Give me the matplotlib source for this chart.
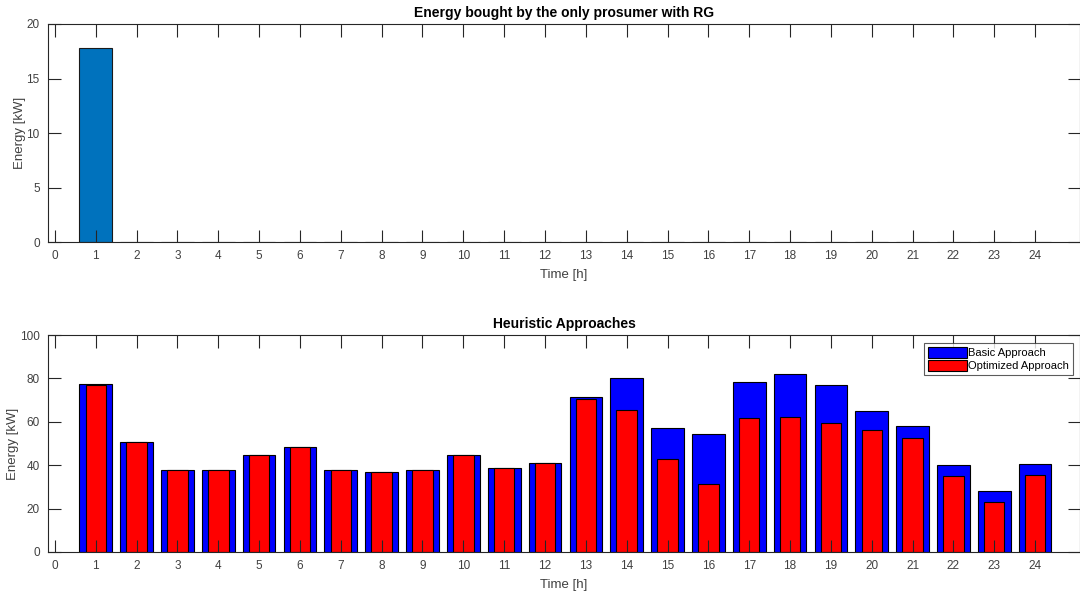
import matplotlib
matplotlib.use("Agg")
import matplotlib.pyplot as plt
import numpy as np

plt.rcParams['font.family'] = ['Liberation Sans', 'DejaVu Sans']

# Hours of the day
hours = list(range(1, 25))

# Energy bought by the single prosumer with renewable generation (kW)
prosumer_energy = [17.8] + [0.0] * 23

# Heuristic approaches (kW)
basic_energy = [77.3, 50.9, 37.6, 38.0, 44.5, 48.3, 37.6, 36.8, 37.9, 44.5, 38.5, 41.0,
                71.3, 80.4, 57.1, 54.4, 78.2, 81.9, 77.0, 65.0, 58.0, 40.0, 28.1, 40.6]
optimized_energy = [77.0, 50.9, 37.6, 38.0, 44.5, 48.3, 37.6, 36.8, 37.9, 44.5, 38.5, 41.0,
                    70.7, 65.3, 42.8, 31.4, 61.7, 62.1, 59.6, 56.3, 52.7, 35.1, 23.0, 35.6]

xticks = list(range(0, 25))

W, H = 1080, 597
fig = plt.figure(figsize=(W / 100, H / 100), dpi=100)

axis_col = '#262626'
label_col = '#404040'


def px_axes(left, top, right, bottom):
    return fig.add_axes([left / W, 1 - bottom / H, (right - left) / W, (bottom - top) / H])


def style(ax, yticks, ymax):
    ax.set_xlim(-0.17, 25.1)
    ax.set_ylim(0, ymax)
    ax.set_xticks(xticks)
    ax.set_yticks(yticks)
    ax.tick_params(direction='in', top=True, right=True, length=9, width=0.8,
                   color=axis_col, labelcolor=label_col, labelsize=8.5, pad=6)
    for s in ax.spines.values():
        s.set_color(axis_col)
        s.set_linewidth(0.8)
    ax.set_xlabel('Time [h]', fontsize=9.5, color=label_col, labelpad=5)
    ax.set_ylabel('Energy [kW]', fontsize=9.5, color=label_col, labelpad=0.5)


# Top panel
ax1 = px_axes(48, 24, 1080, 242)
ax1.bar(hours, prosumer_energy, width=0.8, color='#0072BD', edgecolor='#1a1a1a', linewidth=0.8)
style(ax1, [0, 5, 10, 15, 20], 20)
ax1.set_title('Energy bought by the only prosumer with RG', fontsize=10, fontweight='bold',
              color='#000000', pad=5)

# Bottom panel
ax2 = px_axes(48, 335, 1080, 552)
ax2.bar(hours, basic_energy, width=0.8, color='#0000FF', edgecolor='#000000', linewidth=0.8,
        label='Basic Approach')
ax2.bar(hours, optimized_energy, width=0.5, color='#FF0000', edgecolor='#000000', linewidth=0.8,
        label='Optimized Approach')
style(ax2, [0, 20, 40, 60, 80, 100], 100)
ax2.set_title('Heuristic Approaches', fontsize=10, fontweight='bold', color='#000000', pad=5)

leg = ax2.legend(loc='upper right', bbox_to_anchor=(1073 / W, 1 - 343 / H),
                 bbox_transform=fig.transFigure, fontsize=8, frameon=True, fancybox=False,
                 borderpad=0.35, handlelength=3.5, handleheight=1.1, handletextpad=0.1,
                 labelspacing=0.2, borderaxespad=0)
leg.get_frame().set_edgecolor('#333333')
leg.get_frame().set_linewidth(0.8)
for t in leg.get_texts():
    t.set_color('#000000')

fig.savefig('out.png', dpi=100)
